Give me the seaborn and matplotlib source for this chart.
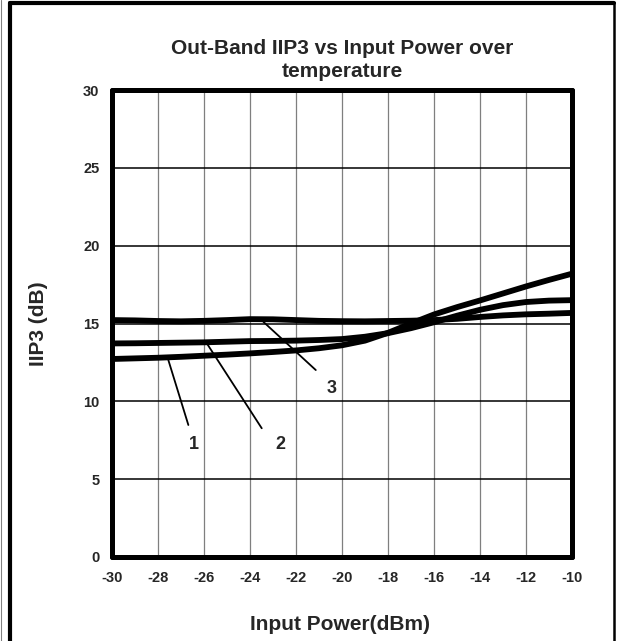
import matplotlib
matplotlib.use('Agg')
import matplotlib.pyplot as plt
import seaborn as sns
import pandas as pd
from matplotlib.lines import Line2D

# data
input_power = [-30, -29, -28, -27, -26, -25, -24, -23, -22, -21, -20,
               -19, -18, -17, -16, -15, -14, -13, -12, -11, -10]
iip3_1 = [12.72, 12.76, 12.80, 12.86, 12.93, 13.00, 13.08, 13.17, 13.27, 13.41, 13.60,
          13.90, 14.40, 15.00, 15.58, 16.05, 16.48, 16.93, 17.38, 17.80, 18.20]
iip3_2 = [13.72, 13.73, 13.75, 13.77, 13.79, 13.83, 13.87, 13.88, 13.90, 13.94, 14.00,
          14.15, 14.38, 14.70, 15.08, 15.50, 15.88, 16.18, 16.38, 16.47, 16.50]
iip3_3 = [15.22, 15.20, 15.16, 15.14, 15.17, 15.22, 15.28, 15.27, 15.22, 15.17, 15.15,
          15.14, 15.16, 15.18, 15.22, 15.30, 15.42, 15.52, 15.59, 15.63, 15.68]

curve_labels = ['1', '2', '3']
# leader line (curve point, label end) and label position, in data units
leaders = [((-27.55, 12.65), (-26.68, 8.48)),
           ((-25.88, 13.73), (-23.49, 8.27)),
           ((-23.42, 15.11), (-21.14, 12.01))]
label_pos = [(-26.45, 7.2), (-22.7, 7.2), (-20.45, 10.85)]

xticks = list(range(-30, -9, 2))
yticks = list(range(0, 31, 5))

sns.set_style('white')
plt.rcParams['font.family'] = ['Liberation Sans', 'DejaVu Sans']
plt.rcParams['font.weight'] = 'bold'
plt.rcParams['axes.unicode_minus'] = False

fig = plt.figure(figsize=(6.22, 6.41), dpi=100)
ax = fig.add_axes([112 / 622, 1 - 557 / 641, 460 / 622, 467 / 641])

df = pd.DataFrame({'x': input_power, '1': iip3_1, '2': iip3_2, '3': iip3_3})
for c in curve_labels:
    sns.lineplot(data=df, x='x', y=c, ax=ax, color='black', lw=4.2,
                 solid_capstyle='butt', zorder=3)

# grid: thin gray verticals, black horizontals
for xv in xticks[1:-1]:
    ax.axvline(xv, color='#7f7f7f', lw=0.9, zorder=1)
for yv in yticks[1:-1]:
    ax.axhline(yv, color='black', lw=1.1, zorder=1)

for (p0, p1), (lx, ly), txt in zip(leaders, label_pos, curve_labels):
    ax.plot([p0[0], p1[0]], [p0[1], p1[1]], color='black', lw=1.3, zorder=2)
    ax.text(lx, ly, txt, fontsize=13, fontweight='bold', ha='center', va='center')

ax.set_xlim(-30, -10)
ax.set_ylim(0, 30)
ax.set_xticks(xticks)
ax.set_yticks(yticks)
ax.tick_params(direction='in', length=4, width=1, labelsize=10.5)
ax.tick_params(axis='x', pad=10)
ax.tick_params(axis='y', pad=9)
for lab in ax.get_xticklabels() + ax.get_yticklabels():
    lab.set_fontweight('bold')
ax.set_xlabel('')
ax.set_ylabel('')
for s in ax.spines.values():
    s.set_linewidth(3.6)
    s.set_color('black')
    s.set_capstyle('round')

fig.text(342 / 622, 1 - 54 / 641, 'Out-Band IIP3 vs Input Power over', fontsize=15,
         fontweight='bold', ha='center', va='baseline')
fig.text(342 / 622, 1 - 77 / 641, 'temperature', fontsize=15,
         fontweight='bold', ha='center', va='baseline')
fig.text(340 / 622, 1 - 630 / 641, 'Input Power(dBm)', fontsize=15,
         fontweight='bold', ha='center', va='baseline')
fig.text(38 / 622, 1 - 324 / 641, 'IIP3 (dB)', fontsize=15, fontweight='bold',
         ha='center', va='center', rotation=90)

# outer frame of the screenshot
fig.add_artist(Line2D([0.5 / 622, 0.5 / 622], [0, 1], color='#808080', lw=0.8))
fig.add_artist(Line2D([10 / 622, 10 / 622], [0, 1 - 2.5 / 641], color='black', lw=3.0))
fig.add_artist(Line2D([10 / 622, 614 / 622], [1 - 2.5 / 641, 1 - 2.5 / 641], color='black', lw=3.0))
fig.add_artist(Line2D([614 / 622, 614 / 622], [0, 1 - 2.5 / 641], color='black', lw=1.8))

fig.savefig('out.png', dpi=100)
